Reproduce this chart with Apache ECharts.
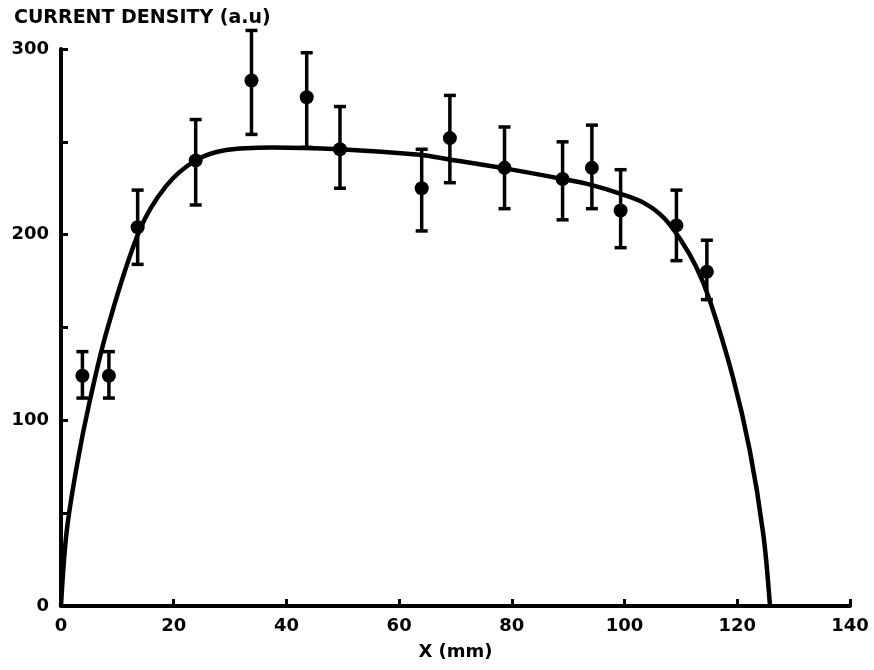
<!DOCTYPE html>
<html>
<head>
<meta charset="utf-8">
<script src="https://cdn.jsdelivr.net/npm/echarts@6/dist/echarts.min.js"></script>
<style>
html,body{margin:0;padding:0;background:#fff;}
#chart{width:874px;height:670px;}
</style>
</head>
<body>
<div id="chart"></div>
<script>
// Measured points: x (mm), current density (a.u.), error bar low/high
var pointX    = [3.8, 8.5, 13.6, 23.9, 33.8, 43.6, 49.5, 64, 69, 78.7, 89, 94.2, 99.3, 109.2, 114.6];
var pointY    = [124, 124, 204, 240, 283, 274, 246, 225, 252, 236, 230, 236, 213, 205, 180];
var errLow    = [112, 112, 184, 216, 254, 247, 225, 202, 228, 214, 208, 214, 193, 186, 165];
var errHigh   = [137, 137, 224, 262, 310, 298, 269, 246, 275, 258, 250, 259, 235, 224, 197];

// Fitted curve
var curveX = [0, 1, 2.9, 5, 8.2, 13.9, 18.6, 23.9, 29.3, 37.5, 49.4, 63.6, 68.9, 78.7, 89, 94.2, 99.3, 103.5, 107, 110, 112.7, 115.1, 119.2, 122.2, 124.6, 125.8];
var curveY = [0, 40, 77, 109, 149, 202, 226, 240, 245.6, 247, 246, 243, 240.5, 235.7, 230, 226.7, 222, 217, 209, 197, 182.7, 164.8, 123.5, 84, 39, 0];

var xTicks = [0, 20, 40, 60, 80, 100, 120, 140];
var yTickLabels = [0, 100, 200, 300];

var labelFont = {color:'#000', fontFamily:'DejaVu Sans', fontWeight:'bold', fontSize:18};

var chart = echarts.init(document.getElementById('chart'));
var points = pointX.map(function(x,i){return [x, pointY[i]];});
var errs = pointX.map(function(x,i){return [x, errLow[i], errHigh[i]];});
var curve = curveX.map(function(x,i){return [x, curveY[i]];});

chart.setOption({
  animation:false,
  backgroundColor:'#fff',
  title:{
    text:'CURRENT DENSITY (a.u)',
    left:9, top:4,
    textStyle:{color:'#000', fontFamily:'DejaVu Sans', fontWeight:'bold', fontSize:19}
  },
  grid:{left:61, right:24, top:49, bottom:64, containLabel:false},
  xAxis:{
    type:'value', min:0, max:140, interval:20,
    name:'X (mm)', nameLocation:'middle', nameGap:37,
    nameTextStyle:labelFont,
    axisLine:{show:true, lineStyle:{color:'#000', width:4}},
    axisTick:{show:true, inside:true, length:7, lineStyle:{color:'#000', width:3}},
    axisLabel:Object.assign({margin:11, formatter:function(v){return xTicks.indexOf(v)>=0 ? String(v) : '';}}, labelFont),
    splitLine:{show:false}
  },
  yAxis:{
    type:'value', min:0, max:300, interval:50,
    axisLine:{show:true, lineStyle:{color:'#000', width:4}},
    axisTick:{show:true, inside:true, length:7, lineStyle:{color:'#000', width:3}},
    axisLabel:Object.assign({margin:12, formatter:function(v){return yTickLabels.indexOf(v)>=0 ? String(v) : '';}}, labelFont),
    splitLine:{show:false}
  },
  series:[
    {
      type:'line', data:curve, smooth:0.35,
      showSymbol:false, symbol:'none', clip:false,
      lineStyle:{color:'#000', width:4.5}, z:2
    },
    {
      type:'custom', clip:false, z:3,
      data:errs,
      renderItem:function(params, api){
        var x = api.value(0);
        var lo = api.coord([x, api.value(1)]);
        var hi = api.coord([x, api.value(2)]);
        var cw = 6;
        var st = {stroke:'#000', lineWidth:3.5};
        return {type:'group', children:[
          {type:'line', shape:{x1:lo[0], y1:lo[1], x2:hi[0], y2:hi[1]}, style:st},
          {type:'line', shape:{x1:lo[0]-cw, y1:lo[1], x2:lo[0]+cw, y2:lo[1]}, style:st},
          {type:'line', shape:{x1:hi[0]-cw, y1:hi[1], x2:hi[0]+cw, y2:hi[1]}, style:st}
        ]};
      }
    },
    {
      type:'scatter', data:points, symbol:'circle', symbolSize:14, clip:false,
      itemStyle:{color:'#000', opacity:1}, z:4
    }
  ]
});
</script>
</body>
</html>
